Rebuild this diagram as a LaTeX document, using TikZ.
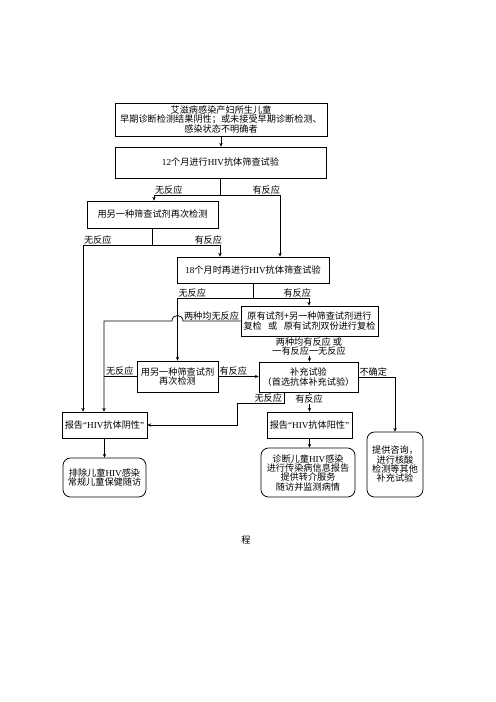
\documentclass[tikz,border=0pt]{standalone}
\usepackage{fontspec}
\setmainfont{Liberation Serif}
\newfontfamily\cjk{Noto Sans CJK SC}
\usetikzlibrary{arrows.meta}
\newcommand\lat[1]{{\rmfamily #1}}
\tikzset{
  bx/.style={draw, line width=0.9pt, inner sep=1pt, align=center, font=\cjk\fontsize{11}{11.2}\selectfont},
  rbx/.style={bx, rounded corners=9pt},
  lbl/.style={inner sep=1pt, font=\cjk\fontsize{11}{11.2}\selectfont, align=center},
  ln/.style={line width=0.9pt},
  ar/.style={line width=0.9pt, -{Stealth[length=4.5pt,width=4pt]}}
}
\begin{document}
\begin{tikzpicture}[x=1.2pt, y=-1.2pt]
\fill[white] (0,0) rectangle (496,702);
\useasboundingbox (0,0) rectangle (496,702);
% boxes
\node[bx, minimum width=254.4pt, minimum height=39.6pt] (b1) at (221,119.5)
  {艾滋病感染产妇所生儿童\\早期诊断检测结果阴性；或未接受早期诊断检测、\\感染状态不明确者};
\node[bx, minimum width=253.2pt, minimum height=37.2pt] (b2) at (220.5,162.5)
  {\lat{12}个月进行\lat{HIV}抗体筛查试验};
\node[bx, minimum width=157.2pt, minimum height=32.4pt] (b3) at (152.5,214.5)
  {用另一种筛查试剂再次检测};
\node[bx, minimum width=182.4pt, minimum height=31.2pt] (b4) at (253,270)
  {\lat{18}个月时再进行\lat{HIV}抗体筛查试验};
\node[bx, minimum width=164.4pt, minimum height=36pt] (b5) at (309.5,321)
  {原有试剂+另一种筛查试剂进行\\复检\hspace{0.7em}或\hspace{0.7em}原有试剂双份进行复检};
\node[bx, minimum width=97.2pt, minimum height=37.2pt] (b6) at (177.5,376.5)
  {用另一种筛查试剂\\再次检测};
\node[bx, minimum width=118.8pt, minimum height=36pt] (b7) at (308.5,377)
  {补充试验\\（首选抗体补充试验）};
\node[bx, minimum width=102pt, minimum height=31.2pt] (b8) at (104.5,425)
  {报告\lat{“HIV}抗体阴性\lat{”}};
\node[bx, minimum width=102pt, minimum height=31.2pt] (b9) at (309.5,425)
  {报告\lat{“HIV}抗体阳性\lat{”}};
\node[rbx, minimum width=99.6pt, minimum height=46.8pt] (r1) at (104.5,477.5)
  {排除儿童\lat{HIV}感染\\常规儿童保健随访};
\node[rbx, minimum width=112.8pt, minimum height=58.8pt] (r2) at (308,472.5)
  {诊断儿童\lat{HIV}感染\\进行传染病信息报告\\提供转介服务\\随访并监测病情};
\node[rbx, minimum width=67.2pt, minimum height=78pt] (r3) at (395,464.5)
  {提供咨询，\\进行核酸\\检测等其他\\补充试验};
% junction coordinates
\coordinate (j1) at (220.5,195);
\coordinate (j1l) at (154,195);
\coordinate (j1r) at (280,195);
\coordinate (j2l) at (83,245);
\coordinate (j2r) at (220,245);
\coordinate (j3l) at (177.5,298);
\coordinate (j3r) at (309,298);
\coordinate (jpR) at (183,321);
\coordinate (jpL) at (172,321);
\coordinate (k1) at (104,321);
\coordinate (k2) at (395,377);
\coordinate (k3) at (284,403);
\coordinate (k4) at (237,403);
% connectors
\draw[ar] (b1.south) -- (b1.south |- b2.north);
\draw[ln] (b2.south) -- (j1);
\draw[ar] (j1) -- (j1l) -- (j1l |- b3.north);
\draw[ar] (j1) -- (j1r) -- (j1r |- b4.north);
\draw[ar] (b3.south) |- (j2l) -- (j2l |- b8.north);
\draw[ar] (b3.south |- j2l) -- (j2r) -- (j2r |- b4.north);
\draw[ar] (b4.south) |- (j3l) -- (j3l |- b6.north);
\draw[ar] (b4.south |- j3l) -- (j3r) -- (j3r |- b5.north);
\draw[ar] (b5.west) -- (jpR) .. controls (183,313.7) and (172,313.7) .. (jpL) -- (k1) -- (k1 |- b8.north);
\draw[ar] (b5.south) -- (b5.south |- b7.north);
\draw[ar] (b6.east) -- (b6.east -| b7.west);
\draw[ln] (b6.west) -- (b6.west -| k1);
\draw[ar] (b7.east) -- (k2) -- (k2 |- r3.north);
\draw[ar] (k3 |- b7.south) -- (k3) -- (k4) -- (k4 |- b8.east) -- (b8.east);
\draw[ar] (b7.south -| b9.north) -- (b9.north);
\draw[ar] (b8.south) -- (r1.north);
\draw[ar] (b9.south) -- (b9.south |- r2.north);
% labels
\node[lbl, anchor=south west] at (j1l) {无反应};
\node[lbl, anchor=south east] at (281,195) {有反应};
\node[lbl, anchor=south west] at (j2l) {无反应};
\node[lbl, anchor=south east] at (223,245) {有反应};
\node[lbl, anchor=south west] at (j3l) {无反应};
\node[lbl, anchor=south east] at (312,298) {有反应};
\node[lbl, anchor=south west] at (jpR) {两种均无反应};
\node[lbl, fill=white] at (309,346.5) {两种均有反应\ 或\\一有反应一无反应};
\node[lbl, anchor=south west] at (105,376.5) {无反应};
\node[lbl, anchor=south west] at (218.5,376.5) {有反应};
\node[lbl, anchor=south west] at (358.5,377) {不确定};
\node[lbl, anchor=south east] at (283,403) {无反应};
\node[lbl, fill=white] at (309,399) {有反应};
\node[lbl] (ft) at (246,540) {程};
\end{tikzpicture}
\end{document}
